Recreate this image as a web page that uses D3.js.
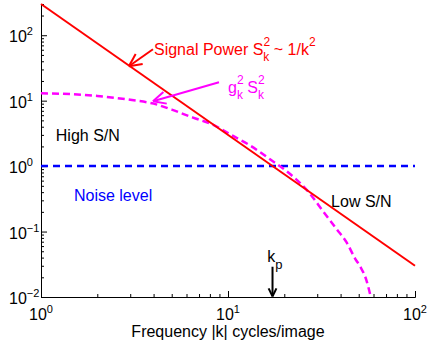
<!DOCTYPE html>
<html>
<head>
<meta charset="utf-8">
<script src="https://cdn.jsdelivr.net/npm/d3@7"></script>
<style>
  body { margin: 0; background: #fff; }
  text { font-family: "Liberation Sans", Arial, Helvetica, sans-serif; }
</style>
</head>
<body>
<svg id="chart"></svg>
<script>
// data
var signalK = [1, 100];
var signalPower = [300, 0.03];          // S_k^2 ~ 1/k^2
var noiseK = [1, 100];
var noiseLevel = [1, 1];
var filtK = [1, 1.5, 2, 3, 4, 5, 6.5, 8.3, 10.5, 13, 17, 21, 27, 32, 38, 43, 48, 51, 55, 58];
var filtPower = [13, 12.5, 11.8, 10.3, 9.0, 7.3, 5.5, 4.3, 2.95, 2.1, 1.24, 0.8, 0.4, 0.21, 0.11, 0.069, 0.038, 0.029, 0.018, 0.01];
var xTicks = [1, 10, 100];
var yTicks = [0.01, 0.1, 1, 10, 100];
var xTickExp = ["0", "1", "2"];
var yTickExp = ["\u22122", "\u22121", "0", "1", "2"];
var kp = 17.3;

var width = 430, height = 349;
var margin = {top: 4, right: 15, bottom: 52, left: 41};

var svg = d3.select('#chart')
    .attr('width', width)
    .attr('height', height);

var x = d3.scaleLog()
    .domain([1, 100])
    .range([margin.left, width - margin.right]);

var y = d3.scaleLog()
    .domain([0.01, 300])
    .range([height - margin.bottom, margin.top]);

// minor ticks 2..9 per decade
function minors(lo, hi) {
    var out = [];
    for (var d = lo; d < hi; d *= 10) {
        for (var m = 2; m <= 9; m++) {
            if (d * m <= hi) out.push(d * m);
        }
    }
    return out;
}

var gx = svg.append('g').attr('transform', 'translate(0,' + (height - margin.bottom) + ')');
gx.call(d3.axisBottom(x).tickValues(xTicks).tickSize(-6).tickFormat(''));
gx.append('g').call(d3.axisBottom(x).tickValues(minors(1, 100)).tickSize(-3).tickFormat(''))
    .select('.domain').remove();

var gy = svg.append('g').attr('transform', 'translate(' + margin.left + ',0)');
gy.call(d3.axisLeft(y).tickValues(yTicks).tickSize(-6).tickFormat('').tickSizeOuter(0));
gy.append('g').call(d3.axisLeft(y).tickValues(minors(0.01, 300)).tickSize(-3).tickFormat(''))
    .select('.domain').remove();

svg.selectAll('.domain, .tick line').attr('stroke', '#000').attr('stroke-width', 1);

// tick labels with exponents
var xl = svg.selectAll('.xlab')
    .data(xTicks)
    .enter()
    .append('text')
    .attr('class', 'xlab')
    .attr('x', function(d) { return x(d) - 12; })
    .attr('y', height - margin.bottom + 23)
    .attr('font-size', 16);
xl.append('tspan').text('10');
xl.append('tspan').attr('dy', -7).attr('font-size', 11).text(function(d, i) { return xTickExp[i]; });

var yl = svg.selectAll('.ylab')
    .data(yTicks)
    .enter()
    .append('text')
    .attr('class', 'ylab')
    .attr('x', 9)
    .attr('y', function(d) { return y(d) + 7; })
    .attr('font-size', 16);
yl.append('tspan').text('10');
yl.append('tspan').attr('dy', -7).attr('font-size', 11).text(function(d, i) { return yTickExp[i]; });

svg.append('text')
    .attr('x', (margin.left + width - margin.right) / 2)
    .attr('y', height - 12)
    .attr('text-anchor', 'middle')
    .attr('font-size', 16)
    .text('Frequency |k| cycles/image');

// lines
var line = d3.line()
    .x(function(d) { return x(d[0]); })
    .y(function(d) { return y(d[1]); });

svg.append('path')
    .datum(d3.zip(noiseK, noiseLevel))
    .attr('d', line)
    .attr('fill', 'none')
    .attr('stroke', '#0000ff')
    .attr('stroke-width', 2.5)
    .attr('stroke-dasharray', '7,5');

svg.append('path')
    .datum(d3.zip(filtK, filtPower))
    .attr('d', line.curve(d3.curveMonotoneX))
    .attr('fill', 'none')
    .attr('stroke', '#ff00ff')
    .attr('stroke-width', 2.5)
    .attr('stroke-dasharray', '7,4');

svg.append('path')
    .datum(d3.zip(signalK, signalPower))
    .attr('d', line.curve(d3.curveLinear))
    .attr('fill', 'none')
    .attr('stroke', '#ff0000')
    .attr('stroke-width', 2);

// open-headed arrows, tail -> tip in data coords
function arrow(k0, v0, k1, v1, color, head) {
    var x0 = x(k0), y0 = y(v0), x1 = x(k1), y1 = y(v1);
    var a = Math.atan2(y1 - y0, x1 - x0);
    var g = svg.append('g').attr('stroke', color).attr('stroke-width', 2).attr('fill', 'none');
    g.append('line').attr('x1', x0).attr('y1', y0).attr('x2', x1).attr('y2', y1);
    [-0.45, 0.45].forEach(function(s) {
        g.append('line')
            .attr('x1', x1).attr('y1', y1)
            .attr('x2', x1 - head * Math.cos(a + s))
            .attr('y2', y1 - head * Math.sin(a + s));
    });
}

arrow(3.97, 61, 2.95, 33.6, '#ff0000', 14);
arrow(8.95, 19.1, 3.97, 9.8, '#ff00ff', 14);
arrow(kp, 0.029, kp, 0.0102, '#000000', 9);

// annotations
var sig = svg.append('text')
    .attr('x', x(4.02)).attr('y', y(49.5))
    .attr('fill', '#ff0000').attr('font-size', 16);
sig.append('tspan').text('Signal Power S');
sig.append('tspan').attr('dy', -9).attr('font-size', 12).text('2');
sig.append('tspan').attr('dx', -6.7).attr('dy', 15).attr('font-size', 12).text('k');
sig.append('tspan').attr('dy', -6).text(' ~ 1/k');
sig.append('tspan').attr('dy', -9).attr('font-size', 12).text('2');

var gk = svg.append('text')
    .attr('x', x(10)).attr('y', y(13))
    .attr('fill', '#ff00ff').attr('font-size', 16);
gk.append('tspan').text('g');
gk.append('tspan').attr('dy', -9).attr('font-size', 12).text('2');
gk.append('tspan').attr('dx', -6.7).attr('dy', 15).attr('font-size', 12).text('k');
gk.append('tspan').attr('dy', -6).text(' S');
gk.append('tspan').attr('dy', -9).attr('font-size', 12).text('2');
gk.append('tspan').attr('dx', -6.7).attr('dy', 15).attr('font-size', 12).text('k');

svg.append('text')
    .attr('x', x(1.2)).attr('y', y(2.41))
    .attr('font-size', 16)
    .text('High S/N');

svg.append('text')
    .attr('x', x(1.5)).attr('y', y(0.292))
    .attr('fill', '#0000ff').attr('font-size', 16)
    .text('Noise level');

svg.append('text')
    .attr('x', x(35.6)).attr('y', y(0.237))
    .attr('font-size', 16)
    .text('Low S/N');

var kpl = svg.append('text')
    .attr('x', x(16.2)).attr('y', y(0.034))
    .attr('font-size', 16);
kpl.append('tspan').text('k');
kpl.append('tspan').attr('dy', 7).attr('font-size', 13).text('p');
</script>
</body>
</html>
